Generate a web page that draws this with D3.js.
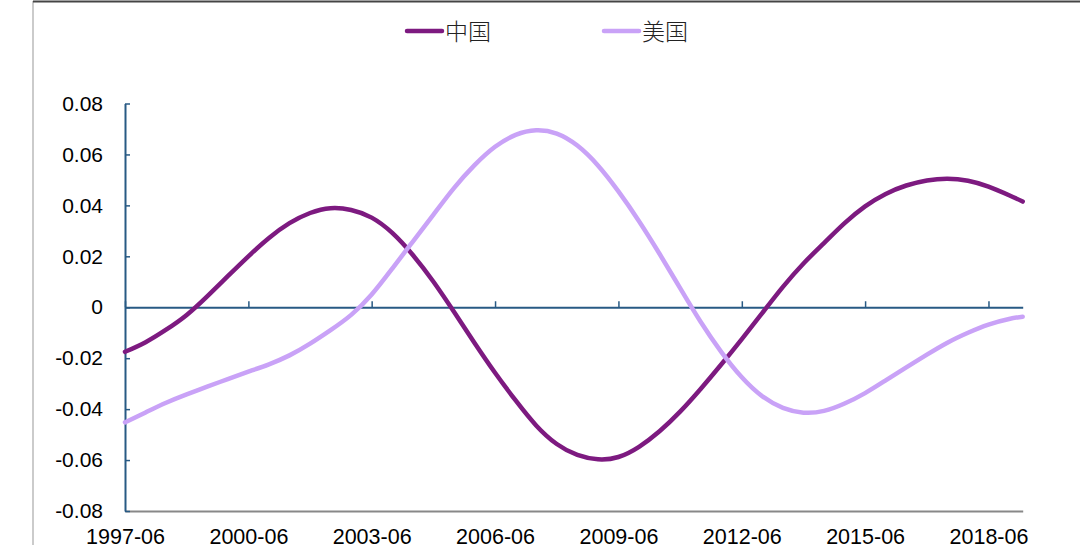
<!DOCTYPE html>
<html>
<head>
<meta charset="utf-8">
<script src="https://cdn.jsdelivr.net/npm/d3@7"></script>
<style>
  body { margin: 0; background: #fff; }
  svg { display: block; }
</style>
</head>
<body>
<svg id="chart" width="1080" height="545"></svg>
<script>

// data, one point every 6 months (last point 2019-04)
var dates = ["1997-06","1997-12","1998-06","1998-12","1999-06","1999-12","2000-06","2000-12",
    "2001-06","2001-12","2002-06","2002-12","2003-06","2003-12","2004-06","2004-12",
    "2005-06","2005-12","2006-06","2006-12","2007-06","2007-12","2008-06","2008-12",
    "2009-06","2009-12","2010-06","2010-12","2011-06","2011-12","2012-06","2012-12",
    "2013-06","2013-12","2014-06","2014-12","2015-06","2015-12","2016-06","2016-12",
    "2017-06","2017-12","2018-06","2018-12","2019-04"];

var china = [-0.0175,-0.0137,-0.0088,-0.0030,0.0043,0.0122,0.0200,0.0272,
    0.0330,0.0370,0.0389,0.0382,0.0352,0.0292,0.0205,0.0100,
    -0.0018,-0.0140,-0.0257,-0.0366,-0.0464,-0.0537,-0.0580,-0.0597,
    -0.0588,-0.0548,-0.0487,-0.0410,-0.0321,-0.0225,-0.0125,-0.0022,
    0.0080,0.0172,0.0252,0.0330,0.0396,0.0445,0.0478,0.0498,
    0.0505,0.0497,0.0474,0.0440,0.0415];

var usa = [-0.0452,-0.0413,-0.0375,-0.0342,-0.0312,-0.0282,-0.0253,-0.0224,
    -0.0189,-0.0143,-0.0090,-0.0030,0.0050,0.0152,0.0258,0.0364,
    0.0468,0.0558,0.0630,0.0677,0.0695,0.0682,0.0635,0.0557,
    0.0455,0.0338,0.0210,0.0075,-0.0057,-0.0175,-0.0275,-0.0350,
    -0.0395,-0.0414,-0.0407,-0.0378,-0.0337,-0.0287,-0.0236,-0.0186,
    -0.0139,-0.0100,-0.0068,-0.0046,-0.0037];

var seriesNames = ["中国", "美国"];
var xTickLabels = ["1997-06","2000-06","2003-06","2006-06","2009-06","2012-06","2015-06","2018-06"];
var yTicks = [-0.08,-0.06,-0.04,-0.02,0,0.02,0.04,0.06,0.08];

var colours = ["#7d1a80", "#c9a2f7"];

var svg = d3.select("#chart");
var parse = d3.timeParse("%Y-%m");

//frame of the picture (left edge and top edge)
svg.append("line").attr("x1", 33).attr("x2", 33).attr("y1", 1).attr("y2", 545)
    .attr("stroke", "#a8a8a8").attr("stroke-width", 1.2);
svg.append("line").attr("x1", 33).attr("x2", 1080).attr("y1", 1.5).attr("y2", 1.5)
    .attr("stroke", "#454545").attr("stroke-width", 2);

var x = d3.scaleTime()
    .domain([parse("1997-06"), parse("2019-04")])
    .range([125, 1022.7]);

var y = d3.scaleLinear()
    .domain([-0.08, 0.08])
    .range([511, 103.5]);

var axisBlue = "#285a84";

//bottom line with the date labels
var xAxisBottom = svg.append("g")
    .attr("transform", "translate(0,511)")
    .call(d3.axisBottom(x)
        .tickValues(xTickLabels.map(parse))
        .tickSize(0)
        .tickPadding(18)
        .tickFormat(d3.timeFormat("%Y-%m")));
xAxisBottom.select(".domain").attr("stroke", "#888").attr("stroke-width", 2);
xAxisBottom.selectAll("text")
    .attr("font-family", "Liberation Sans, Arial, sans-serif")
    .attr("font-size", 21.5)
    .attr("fill", "#000");

//zero line with the ticks pointing up
var xAxisZero = svg.append("g")
    .attr("transform", "translate(0," + y(0) + ")")
    .call(d3.axisBottom(x)
        .tickValues(xTickLabels.map(parse))
        .tickSizeInner(-6)
        .tickSizeOuter(0)
        .tickFormat(""));
xAxisZero.select(".domain").attr("stroke", axisBlue).attr("stroke-width", 2);
xAxisZero.selectAll(".tick line").attr("stroke", axisBlue).attr("stroke-width", 1.5);

var yAxis = svg.append("g")
    .attr("transform", "translate(125,0)")
    .call(d3.axisLeft(y)
        .tickValues(yTicks)
        .tickSizeInner(-5)
        .tickSizeOuter(0)
        .tickPadding(22)
        .tickFormat(function(d){
            return d === 0 ? "0" : d.toFixed(2);
        }));
yAxis.select(".domain").attr("stroke", axisBlue).attr("stroke-width", 2);
yAxis.selectAll(".tick line").attr("stroke", axisBlue).attr("stroke-width", 1.5);
yAxis.selectAll("text")
    .attr("font-family", "Liberation Sans, Arial, sans-serif")
    .attr("font-size", 21)
    .attr("fill", "#000");

var line = d3.line()
    .curve(d3.curveNatural)
    .x(function(d){ return x(d.date); })
    .y(function(d){ return y(d.value); });

[china, usa].forEach(function(values, i){
    var pts = dates.map(function(dt, j){
        return {date: parse(dt), value: values[j]};
    });
    svg.append("path")
        .datum(pts)
        .attr("fill", "none")
        .attr("stroke", colours[i])
        .attr("stroke-width", 4.5)
        .attr("stroke-linejoin", "round")
        .attr("stroke-linecap", "round")
        .attr("d", line);
});

//legend
var legendX = [407, 604];
seriesNames.forEach(function(name, i){
    svg.append("line")
        .attr("x1", legendX[i]).attr("x2", legendX[i] + 35)
        .attr("y1", 31).attr("y2", 31)
        .attr("stroke", colours[i])
        .attr("stroke-width", 4.5)
        .attr("stroke-linecap", "round");
    svg.append("text")
        .attr("x", legendX[i] + 38)
        .attr("y", 40)
        .attr("font-family", "Noto Sans CJK SC, sans-serif")
        .attr("font-weight", 300)
        .attr("font-size", 23)
        .attr("fill", "#222")
        .text(name);
});

</script>
</body>
</html>
